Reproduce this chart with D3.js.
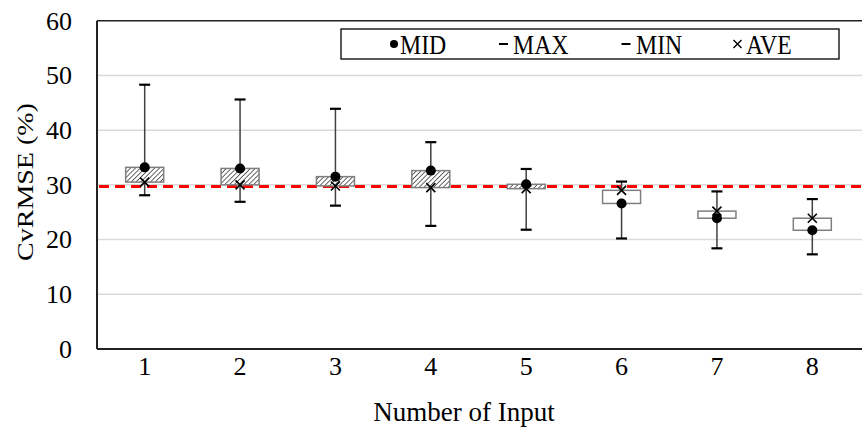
<!DOCTYPE html>
<html>
<head>
<meta charset="utf-8">
<script src="https://cdn.jsdelivr.net/npm/d3@7"></script>
<style>
  body { margin: 0; background: #fff; }
  svg text { font-family: "Liberation Serif", "Times New Roman", Times, serif !important; fill: #000; }
</style>
</head>
<body>
<svg id="chart" width="862" height="435"></svg>
<script>
// values
const categories = ["1", "2", "3", "4", "5", "6", "7", "8"];
const maxValues = [48.3, 45.6, 43.9, 37.8, 32.9, 30.6, 28.8, 27.4];
const minValues = [28.1, 26.9, 26.2, 22.5, 21.8, 20.2, 18.4, 17.3];
const midValues = [33.2, 33.0, 31.5, 32.6, 30.1, 26.6, 23.9, 21.7];
const aveValues = [30.5, 30.0, 29.8, 29.5, 29.3, 29.0, 25.2, 23.9];
const yTicks = [0, 10, 20, 30, 40, 50, 60];
const threshold = 29.7;
const legendLabels = ["MID", "MAX", "MIN", "AVE"];

const serif = "Liberation Serif";

const data = categories.map((c, i) => ({
    cat: c, max: maxValues[i], min: minValues[i], mid: midValues[i], ave: aveValues[i]
}));

const svg = d3.select("#chart").attr("font-family", serif);
const plotLeft = 97, plotRight = 860, plotTop = 20.7, plotBottom = 349;

const x = d3.scaleBand().domain(categories).range([plotLeft, plotRight]);
const y = d3.scaleLinear().domain([0, 60]).range([plotBottom, plotTop]);

const defs = svg.append("defs");
const hatch = defs.append("pattern")
    .attr("id", "hatch")
    .attr("patternUnits", "userSpaceOnUse")
    .attr("width", 3.4).attr("height", 3.4)
    .attr("patternTransform", "rotate(45)");
hatch.append("rect").attr("width", 3.4).attr("height", 3.4).attr("fill", "#fff");
hatch.append("line")
    .attr("x1", 0).attr("y1", 0).attr("x2", 0).attr("y2", 3.4)
    .attr("stroke", "#333").attr("stroke-width", 1.5);

// gridlines
svg.append("g").selectAll("line")
    .data(yTicks.filter(d => d > 0 && d < 60))
    .join("line")
    .attr("x1", plotLeft).attr("x2", 862)
    .attr("y1", d => y(d)).attr("y2", d => y(d))
    .attr("stroke", "#d9d9d9").attr("stroke-width", 1.5);

// frame
svg.append("line").attr("x1", plotLeft).attr("x2", 862).attr("y1", plotTop).attr("y2", plotTop)
    .attr("stroke", "#222").attr("stroke-width", 1.5);
svg.append("line").attr("x1", plotLeft).attr("x2", 862).attr("y1", plotBottom).attr("y2", plotBottom)
    .attr("stroke", "#222").attr("stroke-width", 2);
svg.append("line").attr("x1", plotLeft).attr("x2", plotLeft).attr("y1", plotTop).attr("y2", plotBottom)
    .attr("stroke", "#222").attr("stroke-width", 2);

// axes (labels only)
const yAxis = svg.append("g")
    .attr("transform", `translate(${plotLeft},0)`)
    .call(d3.axisLeft(y).tickValues(yTicks).tickSize(0).tickPadding(25));
yAxis.select(".domain").remove();
yAxis.attr("font-family", serif).attr("font-size", 26);

const xAxis = svg.append("g")
    .attr("transform", `translate(0,${plotBottom})`)
    .call(d3.axisBottom(x).tickSize(0).tickPadding(8));
xAxis.select(".domain").remove();
xAxis.attr("font-family", serif).attr("font-size", 26);

// threshold line
svg.append("line")
    .attr("x1", plotLeft + 2).attr("x2", 862)
    .attr("y1", y(threshold)).attr("y2", y(threshold))
    .attr("stroke", "#ff0000").attr("stroke-width", 3)
    .attr("stroke-dasharray", "10,6");

const cx = d => x(d.cat) + x.bandwidth() / 2;
const boxW = 38;

// whiskers
const g = svg.append("g");
g.selectAll(".whisker").data(data).join("line")
    .attr("class", "whisker")
    .attr("x1", cx).attr("x2", cx)
    .attr("y1", d => y(d.max)).attr("y2", d => y(d.min))
    .attr("stroke", "#404040").attr("stroke-width", 1.5);
["max", "min"].forEach(k => {
    g.selectAll(".cap-" + k).data(data).join("line")
        .attr("class", "cap-" + k)
        .attr("x1", d => cx(d) - 5.5).attr("x2", d => cx(d) + 5.5)
        .attr("y1", d => y(d[k])).attr("y2", d => y(d[k]))
        .attr("stroke", "#000").attr("stroke-width", 2.2);
});

// boxes between MID and AVE
g.selectAll(".box").data(data).join("rect")
    .attr("class", "box")
    .attr("x", d => cx(d) - boxW / 2)
    .attr("width", boxW)
    .attr("y", d => y(Math.max(d.mid, d.ave)))
    .attr("height", d => Math.abs(y(d.mid) - y(d.ave)))
    .attr("fill", d => d.mid > d.ave ? "url(#hatch)" : "#fff")
    .attr("stroke", "#7f7f7f").attr("stroke-width", 1.5);

// AVE crosses
const cross = 4.5;
g.selectAll(".ave").data(data).join("path")
    .attr("class", "ave")
    .attr("d", d => {
        const px = cx(d), py = y(d.ave);
        return `M${px - cross},${py - cross}L${px + cross},${py + cross}M${px - cross},${py + cross}L${px + cross},${py - cross}`;
    })
    .attr("stroke", "#000").attr("stroke-width", 1.6).attr("fill", "none");

// MID dots
g.selectAll(".mid").data(data).join("circle")
    .attr("class", "mid")
    .attr("cx", cx).attr("cy", d => y(d.mid))
    .attr("r", 5).attr("fill", "#000");

// axis titles
svg.append("text")
    .attr("transform", `translate(464,421)`)
    .attr("text-anchor", "middle")
    .attr("font-size", 27)
    .text("Number of Input");

svg.append("text")
    .attr("transform", `translate(33,182) rotate(-90) scale(1,0.82)`)
    .attr("text-anchor", "middle")
    .attr("font-size", 28)
    .text("CvRMSE (%)");

// legend
const legend = svg.append("g");
legend.append("rect")
    .attr("x", 341).attr("y", 29).attr("width", 498).attr("height", 30)
    .attr("fill", "#fff").attr("stroke", "#000").attr("stroke-width", 1.3);
const legendMarkX = [394, 503.5, 626, 737.5];
const legendTextX = [400, 513, 636, 746];
const ly = 44;
legend.append("circle").attr("cx", legendMarkX[0]).attr("cy", ly).attr("r", 4).attr("fill", "#000");
[1, 2].forEach(i => {
    legend.append("line")
        .attr("x1", legendMarkX[i] - 4.5).attr("x2", legendMarkX[i] + 4.5)
        .attr("y1", ly).attr("y2", ly)
        .attr("stroke", "#000").attr("stroke-width", 2);
});
legend.append("path")
    .attr("d", `M${legendMarkX[3] - 4},${ly - 4}L${legendMarkX[3] + 4},${ly + 4}M${legendMarkX[3] - 4},${ly + 4}L${legendMarkX[3] + 4},${ly - 4}`)
    .attr("stroke", "#000").attr("stroke-width", 1.4);
legend.selectAll(".ltext").data(legendLabels).join("text")
    .attr("transform", (d, i) => `translate(${legendTextX[i]},54) scale(0.85,1)`)
    .attr("font-size", 28)
    .text(d => d);
</script>
</body>
</html>
